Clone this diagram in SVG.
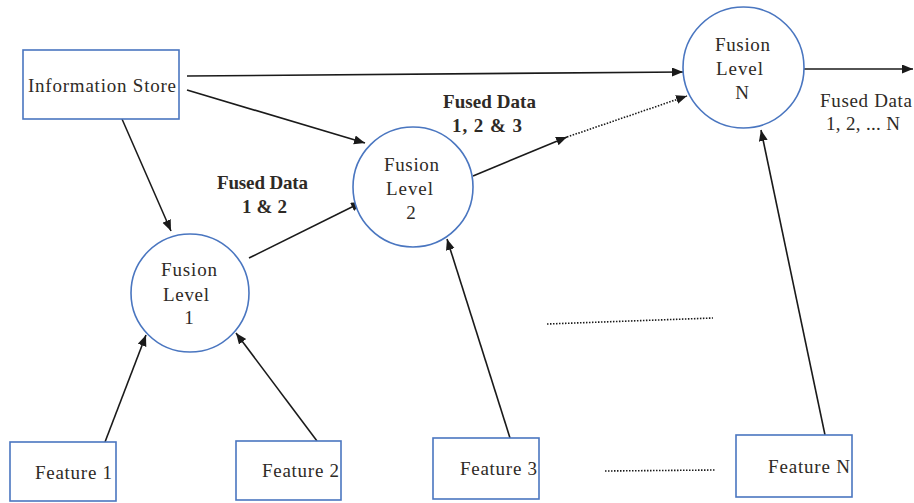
<svg xmlns="http://www.w3.org/2000/svg" width="914" height="503" viewBox="0 0 914 503">
<style>
.box{fill:#fff;stroke:#4a76c0;stroke-width:1.6}
.circ{fill:#fff;stroke:#4a76c0;stroke-width:1.6}
.t{font-family:"Liberation Serif","Times New Roman",serif;font-size:19px;fill:#2e2a26}
.b{font-weight:bold}
.c{stroke:#1a1a1a;stroke-width:1.6;fill:none}
.d{stroke:#1a1a1a;stroke-width:1.6;fill:none;stroke-dasharray:1.5 1.5}
</style>
<defs>
<marker id="ah" markerUnits="userSpaceOnUse" markerWidth="12" markerHeight="10" refX="11" refY="4.5" orient="auto">
<path d="M0,0 L11,4.5 L0,9 Z" fill="#1a1a1a"/>
</marker>
</defs>
<g id="connectors">
<line class="c" x1="187" y1="76" x2="683" y2="72" marker-end="url(#ah)"/>
<line class="c" x1="187" y1="90" x2="365" y2="143" marker-end="url(#ah)"/>
<line class="c" x1="122" y1="119" x2="171" y2="231" marker-end="url(#ah)"/>
<line class="c" x1="249" y1="258" x2="362" y2="202" marker-end="url(#ah)"/>
<line class="c" x1="473" y1="176" x2="567" y2="137" marker-end="url(#ah)"/>
<line class="d" x1="567" y1="137" x2="687" y2="96" marker-end="url(#ah)"/>
<line class="c" x1="105" y1="442" x2="146" y2="335" marker-end="url(#ah)"/>
<line class="c" x1="317" y1="441" x2="236" y2="333" marker-end="url(#ah)"/>
<line class="c" x1="510" y1="438" x2="447" y2="239" marker-end="url(#ah)"/>
<line class="c" x1="825" y1="435" x2="761" y2="130" marker-end="url(#ah)"/>
<line class="c" x1="804" y1="69" x2="913" y2="69" marker-end="url(#ah)"/>
<line class="d" x1="547" y1="324" x2="713" y2="318"/>
<line class="d" x1="605" y1="471" x2="716" y2="470"/>
</g>
<g id="info-store">
<rect class="box" x="23" y="50" width="156" height="69"/>
<text class="t" x="28" y="92" textLength="148">Information Store</text>
</g>
<g id="fusion-1">
<circle class="circ" cx="190" cy="293" r="59"/>
<text class="t" x="161" y="276" textLength="56">Fusion</text>
<text class="t" x="163" y="301" textLength="46">Level</text>
<text class="t" x="189" y="324" text-anchor="middle">1</text>
</g>
<g id="fusion-2">
<circle class="circ" cx="413" cy="187" r="60"/>
<text class="t" x="384" y="171" textLength="55">Fusion</text>
<text class="t" x="386" y="195" textLength="47">Level</text>
<text class="t" x="411" y="219" text-anchor="middle">2</text>
</g>
<g id="fusion-n">
<circle class="circ" cx="743.5" cy="67.5" r="60.5"/>
<text class="t" x="715" y="51" textLength="55">Fusion</text>
<text class="t" x="716" y="75" textLength="47">Level</text>
<text class="t" x="742" y="99" text-anchor="middle">N</text>
</g>
<g id="feature-1">
<rect class="box" x="10" y="442" width="106" height="59"/>
<text class="t" x="35" y="479" textLength="77">Feature 1</text>
</g>
<g id="feature-2">
<rect class="box" x="236" y="441" width="105" height="59"/>
<text class="t" x="262" y="477" textLength="77">Feature 2</text>
</g>
<g id="feature-3">
<rect class="box" x="433" y="438" width="106" height="61"/>
<text class="t" x="460" y="475" textLength="77">Feature 3</text>
</g>
<g id="feature-n">
<rect class="box" x="736" y="435" width="116" height="62"/>
<text class="t" x="768" y="473" textLength="82">Feature N</text>
</g>
<g id="labels">
<text class="t b" x="217" y="189" textLength="91">Fused Data</text>
<text class="t b" x="242" y="213" textLength="45">1 &amp; 2</text>
<text class="t b" x="443" y="108" textLength="93">Fused Data</text>
<text class="t b" x="452" y="132" textLength="70">1, 2 &amp; 3</text>
<text class="t" x="820" y="107" textLength="92">Fused Data</text>
<text class="t" x="826" y="130" textLength="74">1, 2, ... N</text>
</g>
</svg>
